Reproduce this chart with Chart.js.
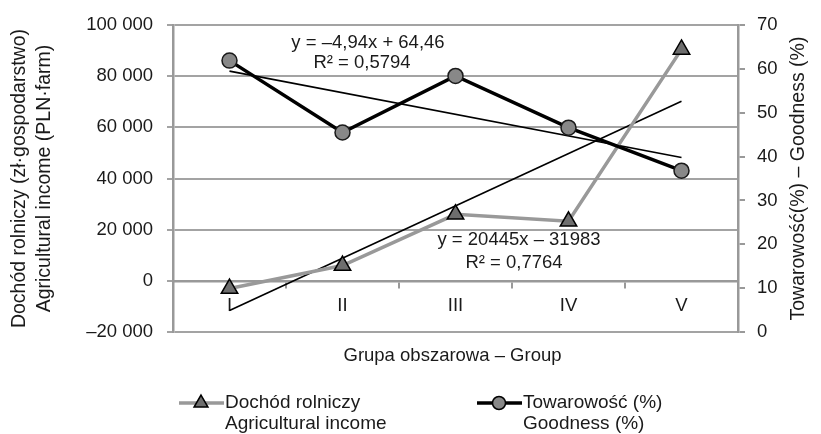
<!DOCTYPE html>
<html lang="pl">
<head>
<meta charset="UTF-8">
<title>Dochód rolniczy i towarowość</title>
<script src="https://cdn.jsdelivr.net/npm/chart.js"></script>
<style>
  body { margin: 0; background: #fff; }
  #chart { display: block; }
</style>
</head>
<body>
<canvas id="chart" width="821" height="434"></canvas>
<script>
// grupy obszarowe
const groups = ['I', 'II', 'III', 'IV', 'V'];
// dochod rolniczy (zl/gospodarstwo) - lewa os
const income = [-3000, 6000, 26000, 23300, 90500];
// towarowosc (%) - prawa os
const goodness = [61.9, 45.5, 58.4, 46.6, 36.8];
// linie trendu - konce (I i V)
const incomeTrend = [-11600, null, null, null, 70250];
const goodnessTrend = [59.5, null, null, null, 39.8];
// etykiety osi
const leftTicks = ['–20 000', '0', '20 000', '40 000', '60 000', '80 000', '100 000'];
const rightTicks = ['0', '10', '20', '30', '40', '50', '60', '70'];
const seriesNames = ['Dochód rolniczy\nAgricultural income', 'Towarowość (%)\nGoodness (%)'];
const incomeEq = ['y = 20445x – 31983', 'R² = 0,7764'];
const goodnessEq = ['y = –4,94x + 64,46', 'R² = 0,5794'];
const rightTitle = 'Towarowość(%) – Goodness (%)';

const FONT = '"Liberation Sans", Arial, sans-serif';
const GRID = '#a3a3a3';
const AXIS = '#999999';
const TXT = '#1a1a1a';

// napisy: tytul osi X i prawej osi, rownania trendu, legenda
const extras = {
  id: 'extras',
  afterDraw(chart) {
    const ctx = chart.ctx;
    const a = chart.chartArea;
    ctx.save();
    ctx.fillStyle = TXT;
    ctx.textBaseline = 'middle';
    ctx.textAlign = 'center';
    ctx.font = '18.5px ' + FONT;
    ctx.fillText('Grupa obszarowa – Group', (a.left + a.right) / 2 - 3, 356);

    ctx.fillText(goodnessEq[0], 368, 43);
    ctx.fillText(goodnessEq[1], 362, 63);
    ctx.fillText(incomeEq[0], 519, 240);
    ctx.fillText(incomeEq[1], 514, 263);

    // tytul prawej osi (czytany od dolu)
    ctx.save();
    ctx.font = '19.5px ' + FONT;
    ctx.translate(799, (a.top + a.bottom) / 2);
    ctx.rotate(-Math.PI / 2);
    ctx.fillText(rightTitle, 0, 0);
    ctx.restore();

    // legenda
    ctx.font = '19px ' + FONT;
    ctx.textAlign = 'left';
    const items = [
      { x: 179, color: '#999999', width: 3.5, marker: 'tri', fill: '#6e6e6e' },
      { x: 477, color: '#000000', width: 3.5, marker: 'circ', fill: '#888888' }
    ];
    items.forEach((it, i) => {
      const y = 403;
      ctx.strokeStyle = it.color;
      ctx.lineWidth = it.width;
      ctx.beginPath();
      ctx.moveTo(it.x, y);
      ctx.lineTo(it.x + 45, y);
      ctx.stroke();
      const cx = it.x + 22;
      ctx.fillStyle = it.fill;
      ctx.strokeStyle = '#000';
      ctx.lineWidth = 1.5;
      ctx.beginPath();
      if (it.marker === 'tri') {
        const r = 8;
        ctx.moveTo(cx, y - r);
        ctx.lineTo(cx + 0.866 * r, y + 0.5 * r);
        ctx.lineTo(cx - 0.866 * r, y + 0.5 * r);
        ctx.closePath();
      } else {
        ctx.arc(cx, y, 6.5, 0, Math.PI * 2);
      }
      ctx.fill();
      ctx.stroke();
      ctx.fillStyle = TXT;
      seriesNames[i].split('\n').forEach((line, k) => {
        ctx.fillText(line, it.x + 46, y + k * 21);
      });
    });
    ctx.restore();
  }
};

new Chart(document.getElementById('chart'), {
  type: 'line',
  data: {
    labels: groups,
    datasets: [
      {
        label: seriesNames[1],
        data: goodness,
        yAxisID: 'y1',
        borderColor: '#000000',
        borderWidth: 3.5,
        pointStyle: 'circle',
        pointRadius: 7.5,
        pointBackgroundColor: '#888888',
        pointBorderColor: '#1a1a1a',
        pointBorderWidth: 1.5,
        tension: 0,
        order: 0
      },
      {
        label: seriesNames[0],
        data: income,
        yAxisID: 'y',
        borderColor: '#999999',
        borderWidth: 3.5,
        pointStyle: 'triangle',
        pointRadius: 9.5,
        pointBackgroundColor: '#6e6e6e',
        pointBorderColor: '#000000',
        pointBorderWidth: 1.5,
        tension: 0,
        order: 1
      },
      {
        label: 'trend income',
        data: incomeTrend,
        yAxisID: 'y',
        borderColor: '#000000',
        borderWidth: 1.6,
        pointRadius: 0,
        spanGaps: true,
        order: 2
      },
      {
        label: 'trend goodness',
        data: goodnessTrend,
        yAxisID: 'y1',
        borderColor: '#000000',
        borderWidth: 1.6,
        pointRadius: 0,
        spanGaps: true,
        order: 3
      }
    ]
  },
  options: {
    responsive: false,
    animation: false,
    devicePixelRatio: 1,
    layout: { padding: { top: 22, bottom: 102, left: 0, right: 0 } },
    plugins: {
      legend: { display: false },
      tooltip: { enabled: false }
    },
    scales: {
      x: {
        position: { y: 0 },
        offset: true,
        grid: { drawOnChartArea: false, drawTicks: true, tickLength: 6, color: AXIS, lineWidth: 2, offset: true },
        border: { display: true, color: AXIS, width: 2.5 },
        ticks: { color: TXT, font: { size: 18.5, family: FONT }, padding: 8, maxRotation: 0 }
      },
      y: {
        position: 'left',
        min: -20000,
        max: 100000,
        afterFit(s) { s.width = 173; },
        ticks: {
          stepSize: 20000,
          color: TXT,
          padding: 14,
          font: { size: 18.5, family: FONT },
          callback: (v, i) => leftTicks[i]
        },
        grid: { color: GRID, lineWidth: 2, tickLength: 6 },
        border: { color: AXIS, width: 2.5 },
        title: {
          display: true,
          text: ['Dochód rolniczy (zł·gospodarstwo)', 'Agricultural income (PLN·farm)'],
          color: TXT,
          font: { size: 19.5, family: FONT, lineHeight: 1.28 },
          padding: { top: 7.5, bottom: 0 }
        }
      },
      y1: {
        position: 'right',
        min: 0,
        max: 70,
        afterFit(s) { s.width = 83; },
        ticks: {
          stepSize: 10,
          color: TXT,
          padding: 12,
          font: { size: 18.5, family: FONT },
          callback: (v, i) => rightTicks[i]
        },
        grid: { drawOnChartArea: false, color: AXIS, lineWidth: 2, tickLength: 7 },
        border: { color: AXIS, width: 2.5 }
      }
    }
  },
  plugins: [extras]
});
</script>
</body>
</html>
